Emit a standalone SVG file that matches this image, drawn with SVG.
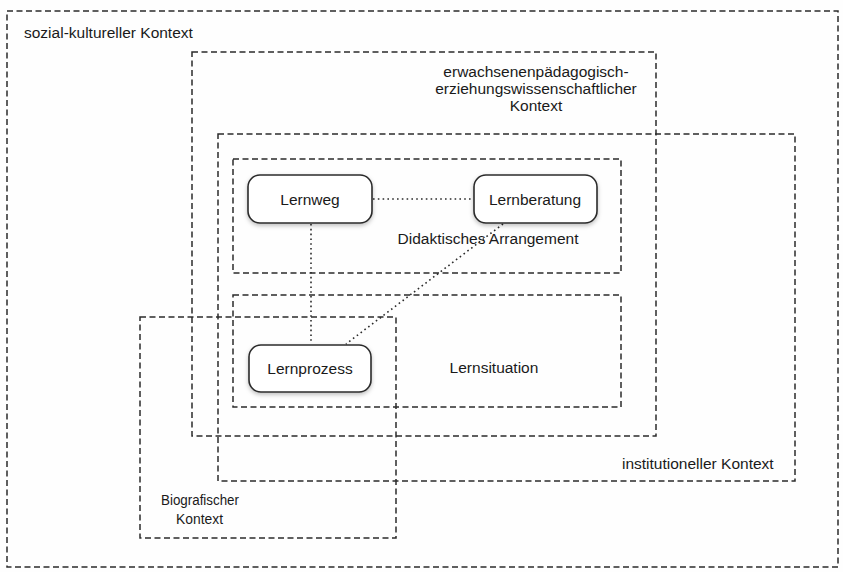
<svg xmlns="http://www.w3.org/2000/svg" width="843" height="572" viewBox="0 0 843 572">
<defs>
<style>
.ctx{fill:none;stroke:#2b2b2b;stroke-width:1.5;stroke-dasharray:6 3.5}
.node{fill:#fff;stroke:#2b2b2b;stroke-width:1.6}
.lnk{fill:none;stroke:#2b2b2b;stroke-width:1.6;stroke-dasharray:1.6 3.2}
text{font-family:"Liberation Sans",Arial,sans-serif;font-size:15.5px;fill:#1a1a1a}
.m{text-anchor:middle}
</style>
<filter id="sh" x="-20%" y="-20%" width="140%" height="150%">
<feDropShadow dx="0" dy="2" stdDeviation="2" flood-color="#000" flood-opacity="0.25"/>
</filter>
</defs>
<rect width="843" height="572" fill="#fefefe"/>
<g id="sozial-kultureller-kontext">
<rect class="ctx" x="7" y="11" width="831" height="556"/>
<text x="24" y="38">sozial-kultureller Kontext</text>
</g>
<g id="erwachsenenpaedagogischer-kontext">
<rect class="ctx" x="192" y="52" width="464" height="384"/>
<text class="m" x="536" y="77">erwachsenenpädagogisch-</text>
<text class="m" x="536" y="94">erziehungswissenschaftlicher</text>
<text class="m" x="536" y="111">Kontext</text>
</g>
<g id="institutioneller-kontext">
<rect class="ctx" x="218" y="134" width="577" height="347"/>
<text x="622" y="469">institutioneller Kontext</text>
</g>
<g id="didaktisches-arrangement">
<rect class="ctx" x="233" y="159" width="388" height="114"/>
<text class="m" x="488" y="244">Didaktisches Arrangement</text>
</g>
<g id="lernsituation">
<rect class="ctx" x="233" y="295" width="388" height="112"/>
<text class="m" x="494" y="373">Lernsituation</text>
</g>
<g id="biografischer-kontext">
<rect class="ctx" x="140" y="317" width="256" height="221"/>
<text x="161" y="505" textLength="78" lengthAdjust="spacingAndGlyphs">Biografischer</text>
<text x="176" y="524" textLength="47" lengthAdjust="spacingAndGlyphs">Kontext</text>
</g>
<g id="connectors">
<line class="lnk" x1="373" y1="199" x2="473" y2="199"/>
<line class="lnk" x1="311" y1="224" x2="311" y2="344"/>
<line class="lnk" x1="503" y1="224" x2="346" y2="344"/>
</g>
<g id="lernweg">
<rect class="node" x="248" y="175" width="124" height="48" rx="12" filter="url(#sh)"/>
<text class="m" x="310" y="205">Lernweg</text>
</g>
<g id="lernberatung">
<rect class="node" x="474" y="175" width="123" height="48" rx="12" filter="url(#sh)"/>
<text class="m" x="535" y="205">Lernberatung</text>
</g>
<g id="lernprozess">
<rect class="node" x="249" y="345" width="122" height="47" rx="12" filter="url(#sh)"/>
<text class="m" x="310" y="374">Lernprozess</text>
</g>
</svg>
